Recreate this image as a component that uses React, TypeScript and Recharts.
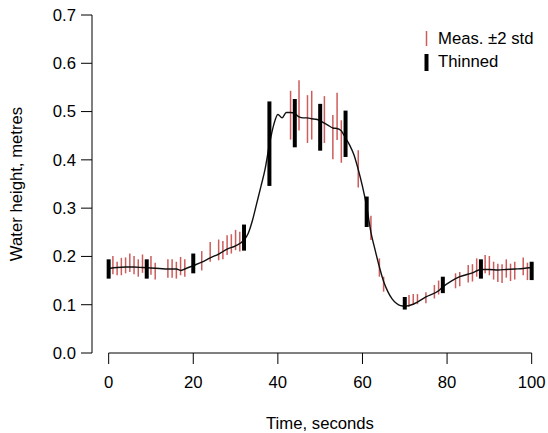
import React from 'react';
import { ComposedChart, XAxis, YAxis, Scatter, ErrorBar, Line, ReferenceLine } from 'recharts';

// Measurements (time, lower and upper ±2 std limits)
const measT = [1, 2, 3, 4, 5, 6, 7, 8, 10, 11, 14, 15, 16, 17, 18, 22, 24, 26, 27, 28, 29, 30, 31,
  43, 45, 47, 48, 51, 53, 54, 55, 59, 62, 64, 65, 71, 72, 73, 75, 77, 78, 82, 83, 85, 86, 87, 89, 90,
  91, 92, 93, 94, 95, 96, 98, 99];
const measLow = [0.163, 0.161, 0.161, 0.165, 0.168, 0.163, 0.158, 0.166, 0.162, 0.152, 0.156, 0.156, 0.154, 0.161, 0.158, 0.171, 0.189, 0.192, 0.194, 0.203, 0.206, 0.213, 0.210,
  0.442, 0.461, 0.435, 0.442, 0.435, 0.401, 0.441, 0.394, 0.343, 0.234, 0.158, 0.127, 0.096, 0.100, 0.101, 0.103, 0.113, 0.121, 0.134, 0.138, 0.146, 0.148,
  0.158, 0.165, 0.161, 0.152, 0.147, 0.145, 0.156, 0.149, 0.152, 0.161, 0.151];
const measHigh = [0.201, 0.189, 0.197, 0.198, 0.206, 0.201, 0.194, 0.204, 0.201, 0.187, 0.194, 0.194, 0.189, 0.199, 0.194, 0.211, 0.230, 0.235, 0.232, 0.244, 0.246, 0.255, 0.251,
  0.543, 0.565, 0.534, 0.543, 0.532, 0.493, 0.539, 0.482, 0.420, 0.284, 0.196, 0.158, 0.120, 0.122, 0.122, 0.126, 0.141, 0.150, 0.165, 0.168, 0.182, 0.184,
  0.196, 0.203, 0.201, 0.189, 0.185, 0.184, 0.194, 0.185, 0.189, 0.198, 0.187];

// Thinned measurements
const thinT = [0, 9, 20, 32, 38, 44, 50, 56, 61, 70, 79, 88, 100];
const thinLow = [0.154, 0.154, 0.165, 0.212, 0.346, 0.426, 0.419, 0.406, 0.261, 0.090, 0.124, 0.154, 0.151];
const thinHigh = [0.194, 0.194, 0.206, 0.266, 0.521, 0.526, 0.516, 0.502, 0.324, 0.116, 0.158, 0.194, 0.189];

// Smoothed estimate
const lineT = [0, 2, 4, 6, 8, 10, 12, 14, 16, 17, 18, 20, 22, 24, 26, 28, 30, 32, 33, 34, 35, 36, 37, 38, 39, 40,
  41, 42, 43, 44, 45, 46, 47, 48, 49, 50, 51, 52, 53, 54, 55, 56, 57, 58, 59, 60, 61, 62, 63, 64, 65, 66, 67, 68,
  69, 70, 72, 75, 78, 79, 81, 83, 86, 88, 90, 92, 94, 96, 98, 100];
const lineY = [0.175, 0.177, 0.178, 0.178, 0.177, 0.176, 0.175, 0.174, 0.174, 0.171, 0.174, 0.181, 0.188, 0.197, 0.205, 0.215, 0.222, 0.234, 0.248, 0.275, 0.310, 0.345, 0.382, 0.432, 0.472, 0.494,
  0.487, 0.498, 0.498, 0.496, 0.489, 0.487, 0.487, 0.485, 0.484, 0.481, 0.476, 0.471, 0.466, 0.465, 0.460, 0.445, 0.430, 0.410, 0.380, 0.345, 0.303, 0.250, 0.213, 0.178, 0.148, 0.127, 0.112, 0.103,
  0.098, 0.097, 0.101, 0.116, 0.129, 0.137, 0.149, 0.158, 0.166, 0.173, 0.173, 0.172, 0.173, 0.174, 0.175, 0.177];

const xTicks = [0, 20, 40, 60, 80, 100];
const yTicks = [0, 0.1, 0.2, 0.3, 0.4, 0.5, 0.6, 0.7];

const measData = measT.map((t, i) => ({ t, y: (measLow[i] + measHigh[i]) / 2, err: (measHigh[i] - measLow[i]) / 2 }));
const thinData = thinT.map((t, i) => ({ t, y: (thinLow[i] + thinHigh[i]) / 2, err: (thinHigh[i] - thinLow[i]) / 2 }));
const lineData = lineT.map((t, i) => ({ t, y: lineY[i] }));

const FONT = '"Liberation Sans", Arial, Helvetica, sans-serif';
const FS = 16.7;
const RED = '#cd5c5c';

const Empty = () => <g />;

export default function App() {
  return (
    <div style={{ position: 'absolute', left: 0, top: 0, width: 548, height: 433, background: '#fff' }}>
      <ComposedChart width={548} height={433} margin={{ top: 15, right: 0, bottom: 0, left: 0 }} style={{ fontFamily: FONT }}>
        <XAxis
          type="number"
          dataKey="t"
          domain={[-3.94, 103.86]}
          allowDataOverflow
          ticks={xTicks}
          interval={0}
          height={80}
          axisLine={false}
          tickSize={11}
          tickMargin={12}
          tickLine={{ stroke: '#000' }}
          tick={{ fontSize: FS, fill: '#000', fontFamily: FONT }}
        />
        <YAxis
          type="number"
          domain={[0, 0.7]}
          allowDataOverflow
          ticks={yTicks}
          interval={0}
          width={92}
          axisLine={{ stroke: '#000' }}
          tickSize={11}
          tickMargin={5}
          tickLine={{ stroke: '#000' }}
          tickFormatter={(v: number) => v.toFixed(1)}
          tick={{ fontSize: FS, fill: '#000', fontFamily: FONT }}
        />
        <ReferenceLine segment={[{ x: 0, y: 0 }, { x: 100, y: 0 }]} stroke="#000" ifOverflow="visible" />
        <Scatter data={measData} dataKey="y" shape={Empty} isAnimationActive={false}>
          <ErrorBar dataKey="err" direction="y" width={0} stroke={RED} strokeWidth={1.5} />
        </Scatter>
        <Line data={lineData} dataKey="y" type="monotone" dot={false} stroke="#111" strokeWidth={1.4} isAnimationActive={false} />
        <Scatter data={thinData} dataKey="y" shape={Empty} isAnimationActive={false}>
          <ErrorBar dataKey="err" direction="y" width={0} stroke="#000" strokeWidth={4} />
        </Scatter>
        <text x={320} y={429} textAnchor="middle" fontSize={FS} fontFamily={FONT} fill="#000">Time, seconds</text>
        <text x={22} y={184} transform="rotate(-90, 22, 184)" textAnchor="middle" fontSize={FS} fontFamily={FONT} fill="#000">Water height, metres</text>
        <line x1={426.5} x2={426.5} y1={31} y2={46} stroke={RED} strokeWidth={1.5} />
        <text x={438} y={44} fontSize={FS} fontFamily={FONT} fill="#000">Meas. ±2 std</text>
        <line x1={426.5} x2={426.5} y1={54} y2={71} stroke="#000" strokeWidth={4} />
        <text x={438} y={67} fontSize={FS} fontFamily={FONT} fill="#000">Thinned</text>
      </ComposedChart>
    </div>
  );
}
